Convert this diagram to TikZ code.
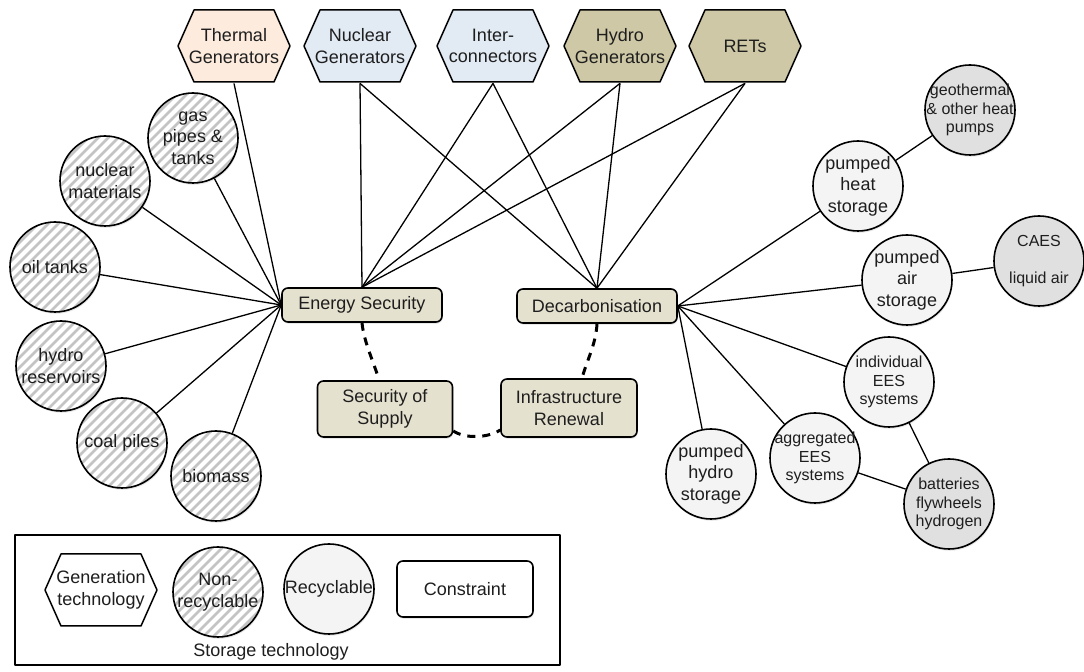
\documentclass[tikz,border=0pt]{standalone}
\usepackage{fontspec}
\setmainfont{Liberation Sans}
\usetikzlibrary{shadows}
\definecolor{peach}{HTML}{FDEBDD}
\definecolor{bluec}{HTML}{E2EAF4}
\definecolor{khaki}{HTML}{CEC8A6}
\definecolor{consc}{HTML}{E5E1CF}
\definecolor{recc}{HTML}{F4F4F4}
\definecolor{greyc}{HTML}{E0E0E0}
\definecolor{hatchc}{HTML}{C4C4C4}
\definecolor{txt}{HTML}{1E1E1E}
\begin{document}
\begin{tikzpicture}[x=0.5pt,y=-0.5pt, line join=round,
  base/.style={font=\fontsize{9}{10.8}\selectfont, text=txt, align=center},
  sm/.style={font=\fontsize{8}{9.4}\selectfont},
  sh/.style={drop shadow={shadow xshift=0.4pt, shadow yshift=-0.9pt, opacity=0.18}},
  hexa/.style={base, rectangle, inner sep=0pt, minimum width=58pt, minimum height=37pt,
     path picture={\path[fill=#1, draw=black, line width=0.75pt]
       ([xshift=-28pt]path picture bounding box.center) -- ++(8pt,18pt) -- ++(40pt,0pt)
       -- ++(8pt,-18pt) -- ++(-8pt,-18pt) -- ++(-40pt,0pt) -- cycle;}},
  cons/.style={base, rectangle, rounded corners=3pt, draw, line width=0.8pt, fill=consc,
     inner sep=0pt, sh},
  circ/.style={circle, draw, line width=0.8pt, minimum size=45pt, inner sep=0pt, sh},
  hatch/.style={circ, fill=white, path picture={\foreach \k in {-35,-30,...,35}
     \draw[hatchc, line width=1.4pt]
       ([shift={({\k*1pt-30pt},-30pt)}]path picture bounding box.center) -- ++(60pt,60pt);}},
  rec/.style={circ, fill=recc},
  grey/.style={circ, fill=greyc},
  lab/.style={label={[base]center:#1}},
  labs/.style={label={[base,sm]center:#1}},
  con/.style={line width=0.65pt},
  dsh/.style={line width=1.5pt, dash pattern=on 4pt off 3.5pt},
]
\useasboundingbox (0,0) rectangle (1084,672);

% generation technologies
\node[hexa=peach] (th) at (234,46) {Thermal\\Generators};
\node[hexa=bluec] (nu) at (360,46) {Nuclear\\Generators};
\node[hexa=bluec] (ic) at (493,46) {Inter-\\connectors};
\node[hexa=khaki] (hy) at (620,46) {Hydro\\Generators};
\node[hexa=khaki] (re) at (745,46) {RETs};

% constraints
\node[cons, minimum width=80pt, minimum height=17pt] (es) at (362,305) {Energy Security};
\node[cons, minimum width=80pt, minimum height=17pt] (dc) at (597,306) {Decarbonisation};
\node[cons, minimum width=67.5pt, minimum height=28pt] (sos) at (385,409) {Security of\\Supply};
\node[cons, minimum width=68pt, minimum height=29pt] (ir) at (569,408) {Infrastructure\\Renewal};

% non-recyclable storage
\node[hatch, lab={gas\\pipes \&\\tanks}] (gas) at (193,138) {};
\node[hatch, lab={nuclear\\materials}] (numat) at (105,181) {};
\node[hatch, lab={oil tanks}] (oil) at (55,267) {};
\node[hatch, lab={hydro\\reservoirs}] (hres) at (61,366) {};
\node[hatch, lab={coal piles}] (coal) at (122,443) {};
\node[hatch, lab={biomass}] (bio) at (216,476) {};

% recyclable storage
\node[rec, lab={pumped\\heat\\storage}] (phs) at (858,186) {};
\node[grey, labs={geothermal\\\& other heat\\pumps}] (geo) at (970,110) {};
\node[rec, lab={pumped\\air\\storage}] (pas) at (907,280) {};
\node[grey, labs={CAES\\[9.4pt]liquid air}] (caes) at (1039,261) {};
\node[rec, labs={individual\\EES\\systems}] (ind) at (889,382) {};
\node[rec, labs={aggregated\\EES\\systems}] (agg) at (815,458) {};
\node[rec, lab={pumped\\hydro\\storage}] (phy) at (711,474) {};
\node[grey, labs={batteries\\flywheels\\hydrogen}] (bat) at (949,504) {};

% connectors
\draw[con] (th.south) -- (es.west);
\foreach \h in {nu,ic,hy,re} {
  \draw[con] (\h.south) -- (es.north);
  \draw[con] (\h.south) -- (dc.north);
}
\foreach \c in {gas,numat,oil,hres,coal,bio} \draw[con] (\c) -- (es.west);
\foreach \c in {phs,pas,ind,agg,phy} \draw[con] (dc.east) -- (\c);
\draw[con] (phs) -- (geo);
\draw[con] (pas) -- (caes);
\draw[con] (ind) -- (bat);
\draw[con] (agg) -- (bat);

\draw[dsh] (es.south) .. controls +(2,20) and +(-5,-18) .. ([xshift=-3pt]sos.north);
\draw[dsh] (dc.south) .. controls +(-1,20) and +(5,-18) .. ([xshift=6.5pt]ir.north);
\draw[dsh] ([yshift=-11pt]sos.east) .. controls +(12,8) and +(-12,8) .. ([yshift=-11pt]ir.west);

% legend
\draw[line width=0.75pt] (15,535) rectangle (560,665);
\node[hexa=white] (lgen) at (101,590) {Generation\\technology};
\node[hatch, lab={Non-\\recyclable}] (lnon) at (218,592) {};
\node[rec, lab={Recyclable}] (lrec) at (329,589) {};
\node[cons, fill=white, minimum width=68pt, minimum height=28pt] (lcon) at (465,589) {Constraint};
\node[base] (lst) at (271,652) {Storage technology};
\end{tikzpicture}
\end{document}
